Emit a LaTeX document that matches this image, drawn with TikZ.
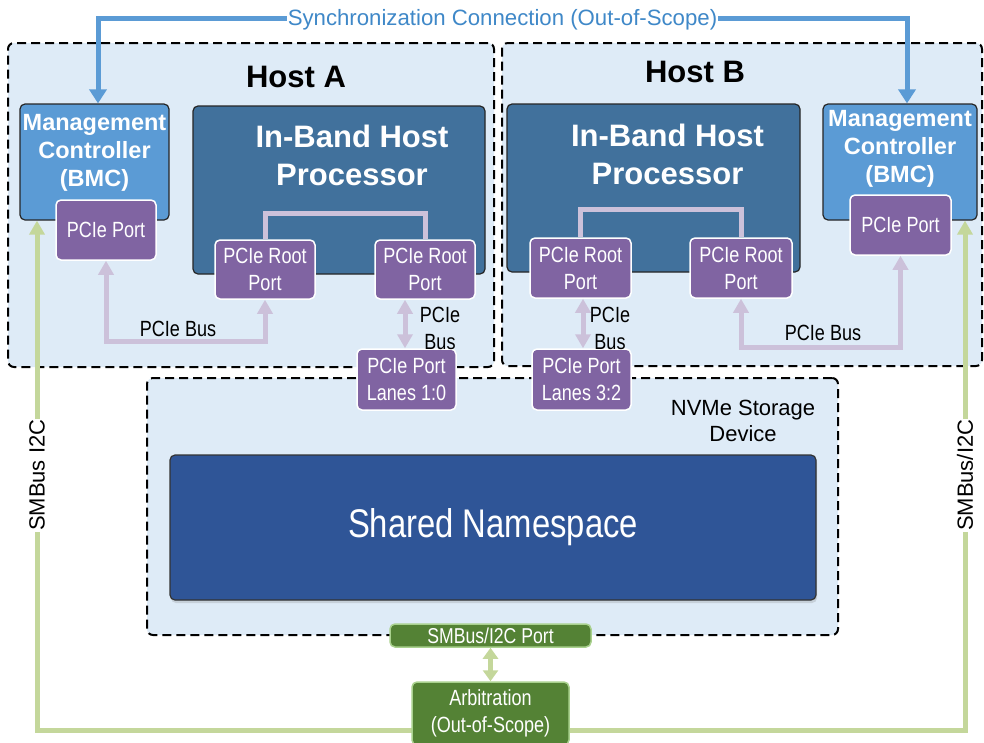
\documentclass[tikz,border=0pt]{standalone}
\usepackage{fontspec}
\setmainfont{Liberation Sans}
\newfontfamily\narrowsans[FakeStretch=0.82]{Liberation Sans}
\usetikzlibrary{arrows.meta,calc,shadows}

\definecolor{hostbg}{HTML}{DEEBF7}
\definecolor{bmcblue}{HTML}{5B9BD5}
\definecolor{procblue}{HTML}{41719C}
\definecolor{portpurple}{HTML}{8064A2}
\definecolor{nsblue}{HTML}{2F5597}
\definecolor{gdark}{HTML}{548235}
\definecolor{gborder}{HTML}{A9D18E}
\definecolor{glight}{HTML}{C4D79B}
\definecolor{plight}{HTML}{CCC1DA}
\definecolor{synctext}{HTML}{3F88C8}

\tikzset{
  hostbox/.style={draw=black, line width=2pt, dash pattern=on 9pt off 5pt,
    fill=hostbg, rounded corners=6pt},
  sz/.style 2 args={minimum width=#1pt, minimum height=#2pt},
  box/.style={rectangle, rounded corners=5pt, inner sep=0pt, align=center},
  bmcbox/.style={box, fill=bmcblue, draw=black!85, line width=1.2pt},
  procbox/.style={box, fill=procblue, draw=black!85, line width=1.2pt},
  portbox/.style={box, fill=portpurple, draw=white, line width=1.5pt,
    text=white, font=\narrowsans\fontsize{22}{27}\selectfont},
  nsbox/.style={box, fill=nsblue, draw=black!80, line width=1.2pt,
    text=white, font=\narrowsans\fontsize{40}{48}\selectfont,
    drop shadow={shadow xshift=1pt, shadow yshift=-3pt, opacity=0.25}},
  gbox/.style={box, fill=gdark, draw=gborder, line width=1.5pt,
    text=white, font=\narrowsans\fontsize{22}{27}\selectfont},
  hosttitle/.style={font=\bfseries\fontsize{31}{37}\selectfont, inner sep=0pt},
  proctitle/.style={font=\bfseries\fontsize{31}{38}\selectfont, text=white,
    align=center, inner sep=0pt},
  bmctext/.style={font=\bfseries\fontsize{23.5}{28}\selectfont, text=white,
    align=center, inner sep=0pt},
  buslabel/.style={font=\narrowsans\fontsize{22}{27}\selectfont, align=center,
    inner sep=0pt},
  pline/.style={draw=plight, line width=5pt},
  pbus/.style={pline, arrows={Triangle[width=15pt,length=14pt]-Triangle[width=15pt,length=14pt]}},
  sync/.style={draw=bmcblue, line width=5pt,
    arrows={Triangle[width=17pt,length=14pt]-Triangle[width=17pt,length=14pt]}},
  synclabel/.style={fill=white, text=synctext, inner sep=1pt, yshift=-2pt,
    font=\fontsize{22.2}{26}\selectfont},
  smb/.style={draw=glight, line width=5pt,
    arrows={Triangle[width=15pt,length=14pt]-Triangle[width=15pt,length=14pt]}},
  smbdbl/.style={draw=glight, line width=5pt,
    arrows={Triangle[width=15pt,length=11pt]-Triangle[width=15pt,length=11pt]}},
  smblabel/.style={fill=white, rotate=90, inner sep=1pt,
    font=\fontsize{22}{26}\selectfont},
}

\begin{document}
\begin{tikzpicture}[x=1pt, y=-1pt]
\useasboundingbox (0,0) rectangle (984,742);

% enclosures
\node[hostbox, sz={486}{324}] (hostA) at (251,205) {};
\node[hostbox, sz={480}{323}] (hostB) at (742,204.5) {};
\node[hostbox, sz={691}{257}] (nvme) at (492.5,506.5) {};

\node[hosttitle] at (296,77) {Host A};
\node[hosttitle] at (695,72) {Host B};

% host processors
\node[procbox, sz={292}{168}] (procA) at (339,190) {};
\node[procbox, sz={293}{168}] (procB) at (653.5,188) {};
\node[proctitle] at ([xshift=13pt,yshift=-50pt]procA.north) {In-Band Host\\Processor};
\node[proctitle] at ([xshift=14pt,yshift=-51pt]procB.north) {In-Band Host\\Processor};

% root ports
\node[portbox, sz={100}{59}] (rootA1) at (265,269.5) {PCIe Root\\Port};
\node[portbox, sz={100}{59}] (rootA2) at (425,269.5) {PCIe Root\\Port};
\node[portbox, sz={101}{60}] (rootB1) at (580.5,268) {PCIe Root\\Port};
\node[portbox, sz={102}{60}] (rootB2) at (741,268) {PCIe Root\\Port};

% internal links between root ports
\draw[pline] (rootA1.north) -- ++(0,-26) -| (rootA2.north);
\draw[pline] (rootB1.north) -- ++(0,-28) -| (rootB2.north);

% management controllers
\node[bmcbox, sz={149}{116}] (bmcA) at (94.5,162) {};
\node[bmcbox, sz={154}{116}] (bmcB) at (900,162) {};
\node[bmctext] at ([yshift=9pt]bmcA.center) {Management\\Controller\\(BMC)};
\node[bmctext] at ([yshift=13pt]bmcB.center) {Management\\Controller\\(BMC)};
\node[portbox, sz={100}{60}] (portA) at (106,230) {PCIe Port};
\node[portbox, sz={101}{60}] (portB) at (900.5,225) {PCIe Port};

% storage device
\node[buslabel, font=\fontsize{22}{26}\selectfont] at (743,421) {NVMe Storage\\Device};
\node[nsbox, sz={646}{145}] (ns) at (493,527.5) {Shared Namespace};
\node[gbox, sz={201}{23}, font=\narrowsans\fontsize{21.5}{24}\selectfont] (smbport) at (490.5,635.5) {SMBus/I2C Port};

% PCIe buses
\coordinate (busA) at (0,341);
\coordinate (busB) at (0,347);
\draw[pbus] (portA.south) -- (portA.south |- busA) -| (rootA1.south);
\draw[pbus] (portB.south) -- (portB.south |- busB) -| (rootB2.south);
\node[buslabel] at (178,329) {PCIe Bus};
\node[buslabel] at (823,333) {PCIe Bus};

\node[portbox, sz={99}{61}] (lanesA) at (406.5,379.5) {PCIe Port\\Lanes 1:0};
\node[portbox, sz={99}{61}] (lanesB) at (581.5,379.5) {PCIe Port\\Lanes 3:2};
\draw[pbus] ([xshift=-1.5pt]lanesA.north |- rootA2.south) -- ([xshift=-1.5pt]lanesA.north);
\draw[pbus] ([xshift=1.5pt]lanesB.north |- rootB1.south) -- ([xshift=1.5pt]lanesB.north);
\node[buslabel] at (440,328) {PCIe\\Bus};
\node[buslabel] at (610,328) {PCIe\\Bus};

% synchronization link between the controllers
\coordinate (sA) at (98,18);
\coordinate (sB) at (907,18);
\draw[sync] (sA |- bmcA.north) -- (sA) --
  node[synclabel] {Synchronization Connection (Out-of-Scope)} (sB) -- (sB |- bmcB.north);

% sideband management bus
\coordinate (gA) at (37,730);
\coordinate (gB) at (965,730);
\draw[smb] (gA |- bmcA.south) -- node[smblabel] {SMBus I2C} (gA) -- (gB) --
  node[smblabel] {SMBus/I2C} (gB |- bmcB.south);

\node[gbox, sz={157}{63}] (arb) at (490.5,713.5) {Arbitration\\(Out-of-Scope)};
\draw[smbdbl] (smbport.south) -- (arb.north);

\end{tikzpicture}
\end{document}
